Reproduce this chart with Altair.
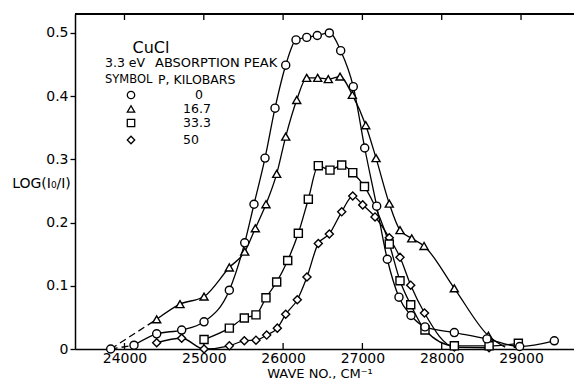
import altair as alt
import pandas as pd

# ---------------- data ----------------
series_names = ["circle", "triangle", "square", "diamond"]
legend_labels = ["0", "16.7", "33.3", "50"]

circle_x = [23826, 24120, 24406, 24721, 25003, 25322, 25516, 25633, 25772, 25898,
            26033, 26163, 26298, 26431, 26583, 26726, 26885, 27029, 27180, 27314,
            27461, 27613, 27789, 28159, 28571, 28983, 29420]
circle_y = [0.000, 0.006, 0.024, 0.030, 0.043, 0.093, 0.168, 0.229, 0.302, 0.381,
            0.449, 0.489, 0.493, 0.496, 0.500, 0.472, 0.415, 0.318, 0.226, 0.142,
            0.082, 0.053, 0.035, 0.026, 0.016, 0.004, 0.013]

triangle_x = [24406, 24700, 25003, 25322, 25516, 25650, 25784, 25919, 26033, 26172,
              26298, 26436, 26570, 26718, 26873, 27042, 27172, 27339, 27474, 27622,
              27777, 28159, 28588]
triangle_y = [0.047, 0.071, 0.083, 0.129, 0.154, 0.191, 0.229, 0.277, 0.336, 0.394,
              0.429, 0.429, 0.427, 0.431, 0.402, 0.354, 0.302, 0.230, 0.188, 0.175,
              0.163, 0.096, 0.021]
triangle_tail_x = [28800]
triangle_tail_y = [0.003]

square_x = [25003, 25322, 25511, 25658, 25784, 25919, 26058, 26192, 26318, 26444,
            26591, 26739, 26878, 27026, 27339, 27474, 27609, 27789, 28159, 28597, 28966]
square_y = [0.015, 0.033, 0.049, 0.054, 0.081, 0.106, 0.140, 0.183, 0.237, 0.290,
            0.283, 0.291, 0.279, 0.257, 0.166, 0.108, 0.070, 0.030, 0.005, 0.005, 0.009]

diamond_x = [24406, 24721, 25003, 25322, 25511, 25658, 25793, 25927, 26033, 26179,
             26301, 26444, 26583, 26739, 26878, 27004, 27159, 27339, 27474, 27609,
             27783, 28159, 28597]
diamond_y = [0.010, 0.017, 0.000, 0.005, 0.013, 0.014, 0.022, 0.033, 0.055, 0.078,
             0.114, 0.167, 0.182, 0.217, 0.242, 0.228, 0.209, 0.176, 0.145, 0.101,
             0.057, 0.003, 0.002]

x_ticks = [24000, 25000, 26000, 27000, 28000, 29000]
y_ticks = [0, 0.1, 0.2, 0.3, 0.4, 0.5]

# ---------------- tables ----------------
def frame(name, xs, ys):
    return pd.DataFrame({"wn": xs, "a": ys, "series": name})

pts = pd.concat([
    frame("diamond", diamond_x, diamond_y),
    frame("square", square_x, square_y),
    frame("triangle", triangle_x, triangle_y),
    frame("circle", circle_x, circle_y),
], ignore_index=True)

solid = pd.concat([
    frame("circle", circle_x[1:], circle_y[1:]),
    frame("triangle", triangle_x + triangle_tail_x, triangle_y + triangle_tail_y),
    frame("square", square_x, square_y),
    frame("diamond", diamond_x, diamond_y),
], ignore_index=True)

dashed = pd.concat([
    frame("circle", circle_x[:2], circle_y[:2]),
    frame("triangle", [circle_x[0], triangle_x[0]], [circle_y[0], triangle_y[0]]),
], ignore_index=True)

ticks_df = pd.DataFrame({"wn": x_ticks})

W, H = 499, 335
FONT = "DejaVu Sans"

xscale = alt.Scale(domain=[23376, 29668], nice=False, zero=False)
yscale = alt.Scale(domain=[0, 0.53], nice=False, zero=True)

x_axis = alt.Axis(values=x_ticks, format="d", ticks=False, labelFontSize=14,
                  labelPadding=2, title=None, grid=False, labelFont=FONT,
                  labelColor="black", domainColor="black", domainWidth=1.5)
y_axis = alt.Axis(values=y_ticks, tickSize=5, tickWidth=1.3, tickColor="black",
                  labelExpr="datum.value == 0 ? '0' : format(datum.value, '.1f')",
                  labelFontSize=14, labelPadding=2, labelFont=FONT, labelColor="black",
                  domainColor="black", domainWidth=1.5, grid=False,
                  title="LOG(I\u2080/I)", titleAngle=0, titleX=-34, titleY=169,
                  titleAlign="center", titleBaseline="middle", titleFontSize=14,
                  titleFont=FONT, titleFontWeight="normal", titleColor="black")

X = alt.X("wn:Q", scale=xscale, axis=x_axis)
Y = alt.Y("a:Q", scale=yscale, axis=y_axis)

shape_scale = alt.Scale(domain=series_names,
                        range=["circle", "triangle-up", "square", "diamond"])
size_scale = alt.Scale(domain=series_names, range=[65, 65, 58, 80])

lines = alt.Chart(solid).mark_line(interpolate="monotone", color="black",
                                   strokeWidth=1.3).encode(x=X, y=Y, detail="series:N")
dash = alt.Chart(dashed).mark_line(color="black", strokeWidth=1.3,
                                   strokeDash=[7, 4]).encode(x=X, y=Y, detail="series:N")
markers = alt.Chart(pts).mark_point(filled=True, fill="white", stroke="black",
                                    strokeWidth=1.4, opacity=1).encode(
    x=X, y=Y,
    shape=alt.Shape("series:N", scale=shape_scale, legend=None),
    size=alt.Size("series:N", scale=size_scale, legend=None),
)

bottom_ticks = alt.Chart(ticks_df).mark_rule(color="black", strokeWidth=1.3).encode(
    x=X, y=alt.value(H - 6), y2=alt.value(H))
top_ticks = alt.Chart(ticks_df).mark_rule(color="black", strokeWidth=1.3).encode(
    x=X, y=alt.value(0), y2=alt.value(6))
top_frame = alt.Chart(ticks_df).mark_rule(color="black", strokeWidth=1.5).encode(
    x=alt.value(0), x2=alt.value(W), y=alt.value(0))

# ---------------- annotation block ----------------
def label(text, x, y, size=12, align="left"):
    return alt.Chart(pd.DataFrame({"t": [text]})).mark_text(
        font=FONT, fontSize=size, align=align, baseline="middle", color="black"
    ).encode(text="t:N", x=alt.value(x), y=alt.value(y))

ann = [
    label("CuCl", 76, 34, size=16, align="center"),
    label("3.3 eV", 30, 49, size=12.5),
    label("ABSORPTION PEAK", 80, 49, size=13),
    label("SYMBOL", 30, 66, size=11.5),
    label("P, KILOBARS", 83, 66, size=12.5),
    label("WAVE NO., CM\u207b\u00b9", 245, 360, size=13, align="center"),
]

leg_rows = [81, 95, 109, 126]
leg_df = pd.DataFrame({"series": series_names, "lab": legend_labels,
                       "px": [56] * 4, "py": leg_rows,
                       "tx": [120, 108, 108, 108]})
leg_markers = alt.Chart(leg_df).mark_point(filled=True, fill="white", stroke="black",
                                           strokeWidth=1.3, opacity=1).encode(
    x=alt.X("px:Q", scale=None), y=alt.Y("py:Q", scale=None),
    shape=alt.Shape("series:N", scale=shape_scale, legend=None),
    size=alt.value(55),
)
leg_text = alt.Chart(leg_df).mark_text(font=FONT, fontSize=12.5, align="left",
                                       baseline="middle", color="black").encode(
    x=alt.X("tx:Q", scale=None), y=alt.Y("py:Q", scale=None), text="lab:N")

chart = alt.layer(
    top_frame, top_ticks, bottom_ticks, dash, lines, markers,
    leg_markers, leg_text, *ann
).properties(
    width=W, height=H,
    autosize=alt.AutoSizeParams(type="none"),
    padding={"left": 75, "top": 14, "right": 0, "bottom": 34},
    background="white",
).configure_view(stroke=None)

chart.save("out.html", embed_options={"renderer": "svg", "actions": False})
